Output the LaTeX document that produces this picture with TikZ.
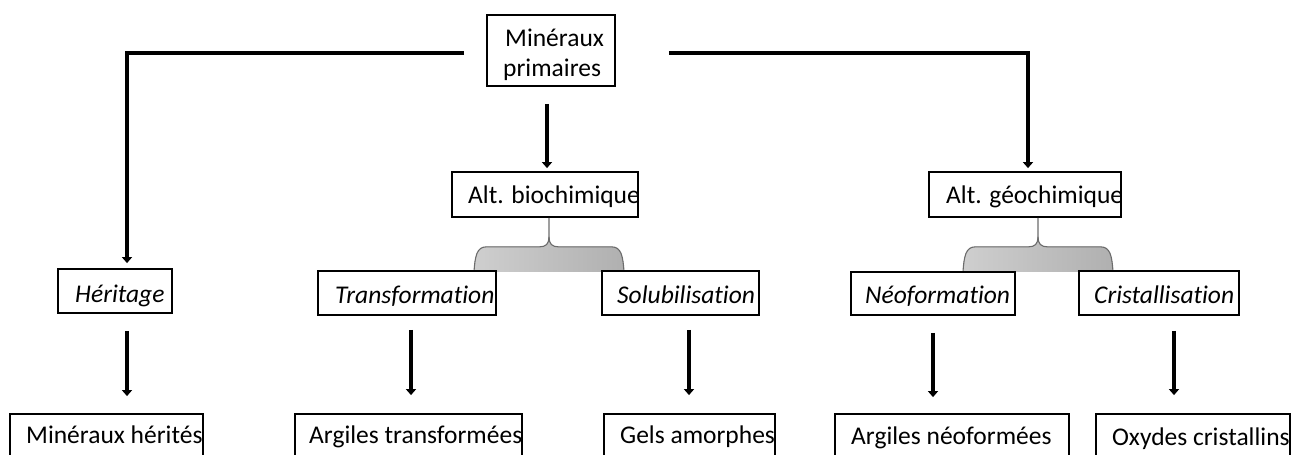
\documentclass[tikz,border=0pt]{standalone}
\usepackage{fontspec}
\setmainfont[Ligatures={NoCommon}]{Carlito}
\usetikzlibrary{arrows.meta,calc}
\begin{document}
\begin{tikzpicture}[x=1pt,y=-1pt,
  box/.style={draw=black, line width=1.8pt, rectangle, inner sep=0pt},
  txt/.style={anchor=base west, inner sep=0pt, font=\fontsize{25.5}{30}\selectfont},
  itxt/.style={anchor=base west, inner sep=0pt, font=\fontsize{25.5}{30}\selectfont\itshape},
  conn/.style={line width=4pt, line join=miter, -{Triangle[width=10pt,length=6pt]}},
  brace/.pic={
    \fill[left color=gray!38, middle color=gray!15, right color=gray!62]
      (-75,54) .. controls (-74,38) and (-72,29) .. (-63,29) -- (-10,29)
      .. controls (-3,29) and (0,26) .. (0,19)
      .. controls (0,26) and (3,29) .. (10,29) -- (63,29)
      .. controls (72,29) and (74,38) .. (75,54) -- cycle;
    \draw[gray!85!black, line width=1.1pt]
      (-75,54) .. controls (-74,38) and (-72,29) .. (-63,29) -- (-10,29)
      .. controls (-3,29) and (0,26) .. (0,19) -- (0,0);
    \draw[gray!85!black, line width=1.1pt]
      (0,19) .. controls (0,26) and (3,29) .. (10,29) -- (63,29)
      .. controls (72,29) and (74,38) .. (75,54);
  }
]
\useasboundingbox (0,0) rectangle (1291,455);
\clip (0,0) rectangle (1291,455);
\fill[white] (0,0) rectangle (1291,455);

% boxes (empty frames)
\node[box, minimum width=128, minimum height=71] (top) at (551,50.5) {};
\node[box, minimum width=186, minimum height=45] (bio) at (545,194.5) {};
\node[box, minimum width=192, minimum height=45] (geo) at (1025,194.5) {};

% braces
\pic at ($(bio.south)+(4,0)$) {brace};
\pic at ($(geo.south)+(13,0)$) {brace};

\node[box, minimum width=114, minimum height=44] (her) at (115,291) {};
\node[box, minimum width=178, minimum height=44] (tra) at (407,293) {};
\node[box, minimum width=157, minimum height=44] (sol) at (680.5,293) {};
\node[box, minimum width=164, minimum height=43] (neo) at (933,293.5) {};
\node[box, minimum width=160, minimum height=44] (cri) at (1159,293) {};

\node[box, minimum width=193, minimum height=56] (mh) at (106.5,442) {};
\node[box, minimum width=227, minimum height=56] (at) at (408.5,442) {};
\node[box, minimum width=171, minimum height=56] (ga) at (689.5,442) {};
\node[box, minimum width=234, minimum height=56] (an) at (952,442) {};
\node[box, minimum width=194, minimum height=56] (ox) at (1193,442) {};

% texts
\node[txt] (t1) at (505,46) {Minéraux};
\node[txt] (t2) at (503,76) {primaires};
\node[txt] (t3) at (468,203) {Alt. biochimique};
\node[txt] (t4) at (946,203) {Alt. géochimique};
\node[itxt] (t5) at (75,302) {Héritage};
\node[itxt] (t6) at (335,303) {Transformation};
\node[itxt] (t7) at (617,303) {Solubilisation};
\node[itxt] (t8) at (865,303) {Néoformation};
\node[itxt] (t9) at (1094,303) {Cristallisation};
\node[txt] (t10) at (26,443) {Minéraux hérités};
\node[txt] (t11) at (309,443) {Argiles transformées};
\node[txt] (t12) at (620,443) {Gels amorphes};
\node[txt] (t13) at (851,444) {Argiles néoformées};
\node[txt] (t14) at (1112,445) {Oxydes cristallins};

% connectors
\draw[conn] ($(top.west)+(-22,2.5)$) -| ($(her.north)+(12,-5)$);
\draw[conn, line width=4.5pt] ($(top.east)+(53,2.5)$) -| ($(geo.north)+(3,-3)$);
\draw[conn] ($(top.south)+(-4,17)$) -- ($(bio.north)+(2,-3)$);
\draw[conn] ($(her.south)+(12,17)$) -- ($(mh.north)+(20.5,-17)$);
\draw[conn] ($(tra.south)+(4,14)$) -- ($(at.north)+(2.5,-18)$);
\draw[conn] ($(sol.south)+(8.5,14)$) -- ($(ga.north)+(-0.5,-18)$);
\draw[conn] ($(neo.south)+(0,17)$) -- ($(an.north)+(-19,-16)$);
\draw[conn] ($(cri.south)+(15,15)$) -- ($(ox.north)+(-19,-18)$);
\end{tikzpicture}
\end{document}
